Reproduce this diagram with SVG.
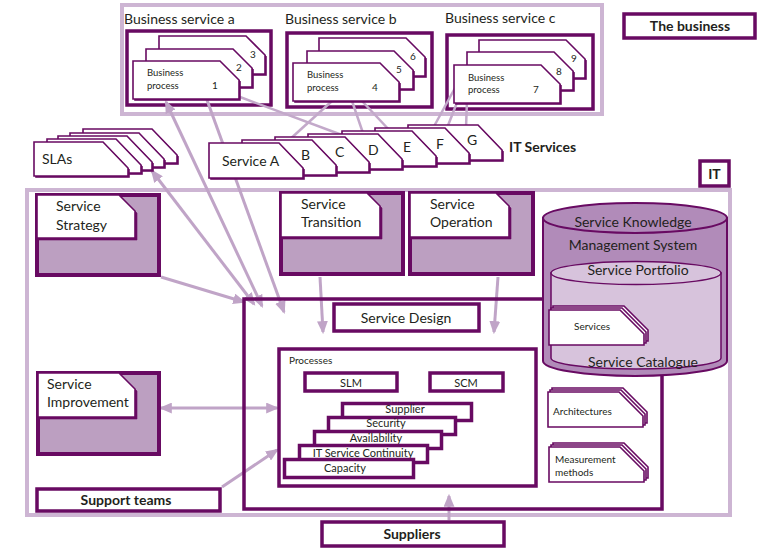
<svg xmlns="http://www.w3.org/2000/svg" width="759" height="552" viewBox="0 0 759 552">
<defs>
<style>
text{font-family:Lato,"Liberation Sans",sans-serif;fill:#231f20}
.frame{fill:none;stroke:#cdb5d3;stroke-width:4}
.box{fill:#fff;stroke:#680a62;stroke-width:3.5}
.nbox{fill:none;stroke:#680a62;stroke-width:3.5}
.pbox{fill:#bc9fc1;stroke:#680a62;stroke-width:4}
.card{fill:#fff;stroke:#680a62;stroke-width:1.6}
.sh{fill:#680a62;stroke:#680a62;stroke-width:0.6}
.conn{stroke:#c3a9ca;stroke-width:2.5;fill:none}
.arr{stroke:#c0a4c7;stroke-width:3;fill:none;marker-end:url(#ah)}
.dbl{marker-start:url(#ah)}
.b{font-weight:bold}
.t15{font-size:14px}
.t14{font-size:14px}
.t11{font-size:11px}
.t10{font-size:10px}
.t9{font-size:9.5px}
.c{text-anchor:middle}
</style>
<marker id="ah" viewBox="0 0 12 10" refX="10" refY="5" markerWidth="13" markerHeight="11" markerUnits="userSpaceOnUse" orient="auto-start-reverse"><path d="M0,0 L12,5 L0,10 Z" fill="#c0a4c7"/></marker>
<path id="bp" d="M0,0H87L106,19V38H0Z"/>
<path id="it" d="M0,0H70L94,25V35H0Z"/>
<path id="sla" d="M0,0H69L94,26V34H0Z"/>
<path id="sm" d="M0,0H71L95,24V35H0Z"/>
</defs>
<rect width="759" height="552" fill="#fff"/>

<!-- frames -->
<g id="business-frame"><rect class="frame" x="122" y="5" width="480" height="109"/></g>
<g id="it-frame"><rect class="frame" x="27" y="190" width="703" height="325"/></g>

<!-- business service boxes -->
<g id="bs-a"><rect class="nbox" x="127" y="31" width="144" height="74" stroke-width="4"/><text class="t15" x="124" y="24">Business service a</text></g>
<g id="bs-b"><rect class="nbox" x="287" y="33" width="145" height="74"/><text class="t15" x="285" y="24">Business service b</text></g>
<g id="bs-c"><rect class="nbox" x="447" y="35" width="146" height="74"/><text class="t15" x="445" y="23">Business service c</text></g>

<g id="connectors">
<path class="conn" d="M240,97 L342,135"/>
<path class="conn" d="M288,141 L332,101"/>
<path class="conn" d="M352,101 L364,136"/>
<path class="conn" d="M362,101 L392,133"/>
<path class="conn" d="M455,88 L432,130"/>
<path class="conn" d="M458,100 L447,128"/>
<path class="conn" d="M467,100 L466,128"/>
<path class="arr dbl" d="M152,171 L254,304"/>
<path class="arr dbl" d="M166,102 L262,306"/>
<path class="arr" d="M207,100 L284,312"/>
<path class="arr" d="M161,277 L244,302"/>
<path class="arr" d="M320,277 L323,332"/>
<path class="arr" d="M498,277 L494,332"/>
<path class="arr dbl" d="M161,408 L277,408"/>
<path class="arr" d="M222,487 L277,450"/>
<path class="arr" d="M449,520 L449,496"/>
</g>

<!-- business process cards -->
<g id="bp-a">
<use href="#bp" class="sh" x="160.5" y="37.5"/><use href="#bp" class="card" x="159" y="36"/><text class="t10" x="250" y="58">3</text>
<use href="#bp" class="sh" x="147.5" y="50.5"/><use href="#bp" class="card" x="146" y="49"/><text class="t10" x="236" y="71">2</text>
<use href="#bp" class="sh" x="134.5" y="62.5"/><use href="#bp" class="card" x="133" y="61"/>
<text class="t9" x="147" y="76">Business</text><text class="t9" x="147" y="89">process</text><text class="t10" x="212" y="89">1</text>
</g>
<g id="bp-b">
<use href="#bp" class="sh" x="320.5" y="39.5"/><use href="#bp" class="card" x="319" y="38"/><text class="t10" x="410" y="60">6</text>
<use href="#bp" class="sh" x="308.5" y="52.5"/><use href="#bp" class="card" x="307" y="51"/><text class="t10" x="396" y="73">5</text>
<use href="#bp" class="sh" x="294.5" y="64.5"/><use href="#bp" class="card" x="293" y="63"/>
<text class="t9" x="307" y="78">Business</text><text class="t9" x="307" y="91">process</text><text class="t10" x="372" y="91">4</text>
</g>
<g id="bp-c">
<use href="#bp" class="sh" x="480.5" y="41.5"/><use href="#bp" class="card" x="479" y="40"/><text class="t10" x="571" y="62">9</text>
<use href="#bp" class="sh" x="468.5" y="53.5"/><use href="#bp" class="card" x="467" y="52"/><text class="t10" x="556" y="75">8</text>
<use href="#bp" class="sh" x="455.5" y="66.5"/><use href="#bp" class="card" x="454" y="65"/>
<text class="t9" x="468" y="81">Business</text><text class="t9" x="468" y="93">process</text><text class="t10" x="533" y="93">7</text>
</g>

<g id="the-business"><rect class="box" x="624" y="14" width="131" height="24" stroke-width="4"/><text class="t14 b c" x="690" y="31">The business</text></g>

<!-- IT services -->
<g id="it-services">
<use href="#it" class="sh" x="409.5" y="126.5"/><use href="#it" class="card" x="408" y="125"/>
<use href="#it" class="sh" x="376.5" y="129.5"/><use href="#it" class="card" x="375" y="128"/>
<use href="#it" class="sh" x="343.5" y="132.5"/><use href="#it" class="card" x="342" y="131"/>
<use href="#it" class="sh" x="309.5" y="135.5"/><use href="#it" class="card" x="308" y="134"/>
<use href="#it" class="sh" x="276.5" y="138.5"/><use href="#it" class="card" x="275" y="137"/>
<use href="#it" class="sh" x="243.5" y="141.5"/><use href="#it" class="card" x="242" y="140"/>
<use href="#it" class="sh" x="210.5" y="144.5"/><use href="#it" class="card" x="209" y="143"/>
<text class="t15" x="222" y="166">Service A</text>
<text class="t15" x="301" y="160">B</text>
<text class="t15" x="335" y="157">C</text>
<text class="t15" x="368" y="155">D</text>
<text class="t15" x="403" y="152">E</text>
<text class="t15" x="436" y="149">F</text>
<text class="t15" x="467" y="145">G</text>
<text class="t14 b" x="509" y="152">IT Services</text>
</g>

<g id="slas">
<use href="#sla" class="sh" x="84.5" y="130.5"/><use href="#sla" class="card" x="83" y="129"/>
<use href="#sla" class="sh" x="71.5" y="134.5"/><use href="#sla" class="card" x="70" y="133"/>
<use href="#sla" class="sh" x="59.5" y="137.5"/><use href="#sla" class="card" x="58" y="136"/>
<use href="#sla" class="sh" x="48.5" y="140.5"/><use href="#sla" class="card" x="47" y="139"/>
<use href="#sla" class="sh" x="35.5" y="143.5"/><use href="#sla" class="card" x="34" y="142"/>
<text class="t15" x="42" y="164">SLAs</text>
</g>

<g id="it-label"><rect class="box" x="700" y="161" width="29" height="25" stroke-width="3"/><text class="t14 b c" x="714.5" y="179">IT</text></g>

<!-- lifecycle boxes -->
<g id="service-strategy">
<rect class="pbox" x="37" y="195" width="122" height="80"/>
<path class="sh" d="M39,197H121L137,213V240H39Z"/>
<path class="card" d="M37,195H119L135,211V238H37Z"/>
<text class="t14" x="56" y="211">Service</text><text class="t14" x="56" y="230">Strategy</text>
</g>
<g id="service-transition">
<rect class="pbox" x="281" y="193" width="122" height="81"/>
<path class="sh" d="M283,195H369L382,208V239H283Z"/>
<path class="card" d="M281,193H367L380,206V237H281Z"/>
<text class="t14" x="301" y="209">Service</text><text class="t14" x="301" y="227">Transition</text>
</g>
<g id="service-operation">
<rect class="pbox" x="410" y="193" width="123" height="81"/>
<path class="sh" d="M412,195H498L511,208V239H412Z"/>
<path class="card" d="M410,193H496L509,206V237H410Z"/>
<text class="t14" x="430" y="209">Service</text><text class="t14" x="430" y="227">Operation</text>
</g>
<g id="service-improvement">
<rect class="pbox" x="38" y="373" width="121" height="81"/>
<path class="sh" d="M40,375H121L137,391V419H40Z"/>
<path class="card" d="M38,373H119L135,389V417H38Z"/>
<text class="t14" x="47" y="389">Service</text><text class="t14" x="47" y="407">Improvement</text>
</g>

<g id="service-design-frame"><rect class="nbox" x="244" y="299" width="418" height="210"/></g>
<g id="service-design"><rect class="box" x="334" y="304" width="145" height="27"/><text class="t14 c" x="406" y="323">Service Design</text></g>

<g id="processes">
<rect class="nbox" x="279" y="349" width="257" height="137"/>
<text class="t10" x="289" y="364">Processes</text>
<g id="slm"><rect class="box" x="305" y="373" width="92" height="18"/><text class="t11 c" x="351" y="387">SLM</text></g>
<g id="scm"><rect class="box" x="430" y="373" width="73" height="18"/><text class="t11 c" x="466" y="387">SCM</text></g>
<g id="supplier"><rect class="box" x="342.5" y="403.5" width="129" height="17" stroke-width="3"/><text class="t11 c" x="405" y="413">Supplier</text></g>
<g id="security"><rect class="box" x="328.5" y="417.5" width="127" height="17" stroke-width="3"/><text class="t11 c" x="386" y="427">Security</text></g>
<g id="availability"><rect class="box" x="314.5" y="431.5" width="127" height="17" stroke-width="3"/><text class="t11 c" x="376" y="442">Availability</text></g>
<g id="itsc"><rect class="box" x="299.5" y="445.5" width="128" height="17" stroke-width="3"/><text class="t11 c" x="363" y="457">IT Service Continuity</text></g>
<g id="capacity"><rect class="box" x="284.5" y="459.5" width="129" height="18" stroke-width="3"/><text class="t11 c" x="345" y="472">Capacity</text></g>
</g>

<g id="skms">
<path d="M543,218 V361 A92,15 0 0 0 727,361 V218 Z" fill="#b18bb9" stroke="#680a62" stroke-width="2"/>
<ellipse cx="635" cy="218" rx="92" ry="15" fill="#b18bb9" stroke="#680a62" stroke-width="2"/>
<text class="t14 c" x="633" y="227">Service Knowledge</text>
<text class="t14 c" x="633" y="250">Management System</text>
<g id="service-portfolio">
<path d="M551,273 V358 A85,11 0 0 0 721,358 V273 Z" fill="#d7c3dc" stroke="#680a62" stroke-width="1.5"/>
<ellipse cx="636" cy="273" rx="85" ry="11.5" fill="#d7c3dc" stroke="#680a62" stroke-width="1.5"/>
<text class="t14 c" x="638" y="275">Service Portfolio</text>
<text class="t14 c" x="643" y="367">Service Catalogue</text>
<g id="services">
<use href="#sm" class="card" x="553" y="306" stroke-width="1.3"/>
<use href="#sm" class="card" x="551" y="308" stroke-width="1.3"/>
<use href="#sm" class="card" x="549" y="310" stroke-width="1.3"/>
<text class="t10" x="574" y="330">Services</text>
</g>
</g>
</g>

<g id="architectures">
<use href="#sm" class="card" x="552" y="388" stroke-width="1.3"/>
<use href="#sm" class="card" x="550" y="390" stroke-width="1.3"/>
<use href="#sm" class="card" x="548" y="392" stroke-width="1.3"/>
<text class="t10" x="553" y="415">Architectures</text>
</g>
<g id="measurement">
<use href="#sm" class="card" x="553" y="443" stroke-width="1.3"/>
<use href="#sm" class="card" x="551" y="445" stroke-width="1.3"/>
<use href="#sm" class="card" x="549" y="447" stroke-width="1.3"/>
<text class="t10" x="555" y="463">Measurement</text>
<text class="t10" x="555" y="476">methods</text>
</g>

<g id="support-teams"><rect class="box" x="37" y="489" width="183" height="22" stroke-width="4"/><text class="t14 b c" x="126" y="505">Support teams</text></g>
<g id="suppliers"><rect class="box" x="322" y="522" width="182" height="24" stroke-width="4"/><text class="t14 b c" x="412" y="539">Suppliers</text></g>
</svg>
